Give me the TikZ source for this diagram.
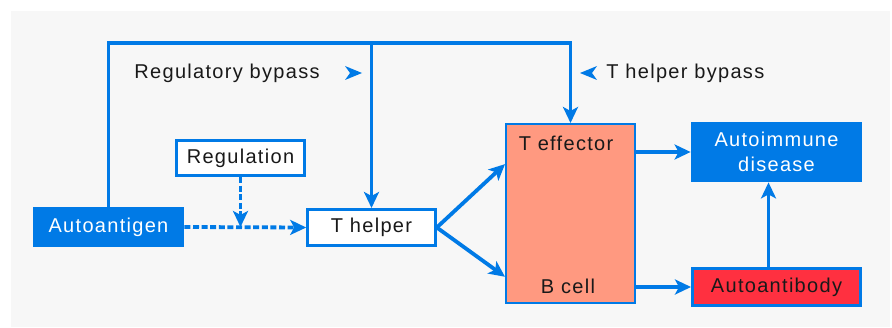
\documentclass[tikz,border=0pt]{standalone}
\usepackage{fontspec}
\setmainfont{Liberation Sans}[LetterSpace=6.5]
\usepackage{tikz}
\usetikzlibrary{positioning, arrows.meta}
\definecolor{cellblue}{RGB}{0,122,230}
\definecolor{effsalmon}{RGB}{255,153,128}
\definecolor{abred}{RGB}{255,48,64}
\definecolor{panelgrey}{RGB}{247,247,247}
\tikzset{
  x=0.5pt, y=0.5pt,
  txt/.style={font=\fontsize{10}{12.5}\selectfont, text=black!90},
  lbl/.style={txt, inner sep=0},
  box/.style={txt, draw=cellblue, line width=1.3pt, fill=white, inner sep=0},
  bluebox/.style={txt, fill=cellblue, text=white, inner sep=0, align=center},
  flow/.style={draw=cellblue, line width=1.9pt, -{Stealth[length=8pt, width=7.5pt, inset=2pt]}},
  dashflow/.style={flow, dash pattern=on 3pt off 1.3pt},
  bypasstip/.pic={\fill[cellblue] (0,0) -- (-17,7) -- (-12,0) -- (-17,-7) -- cycle;}
}

\begin{document}
\begin{tikzpicture}
\useasboundingbox (0,0) rectangle (892,327);
\fill[panelgrey] (11,0) rectangle (890,316);

% cells
\node[bluebox, minimum width=75.5pt, minimum height=20pt] (aag) at (108.5,100) {Autoantigen};
\node[box, minimum width=64pt, minimum height=17.7pt] (reg) at (240.5,169) {Regulation};
\node[box, minimum width=64pt, minimum height=18.2pt] (thelper) at (371.5,99.5) {T helper};
\node[box, fill=effsalmon, line width=1pt, minimum width=64.5pt, minimum height=89.5pt] (effbox) at (570.5,113.5) {};
\node[lbl] (teff) at (566,184) {T effector};
\node[lbl] (bcell) at (568,41) {B cell};
\node[bluebox, minimum width=85.5pt, minimum height=30pt] (autoimm) at (776.5,175) {Autoimmune\\disease};
\node[box, fill=abred, minimum width=84.2pt, minimum height=18.7pt] (autoab) at (776.5,40) {Autoantibody};

% bypass routes over the top
\coordinate (bypass) at (108,284);
\draw[flow] (aag.north) |- (effbox.north |- bypass) -- (effbox.north);
\draw[flow] (thelper.north |- bypass) -- (thelper.north);
\coordinate (rbtip) at (362,254);
\pic at (rbtip) {bypasstip};
\node[lbl, left=21pt of rbtip] (rblabel) {Regulatory bypass};
\coordinate (thtip) at (580,254);
\pic[rotate=180] at (thtip) {bypasstip};
\node[lbl, right=13pt of thtip] (thlabel) {T helper bypass};

% regulated activation
\draw[dashflow] (aag.east) -- (thelper.west);
\draw[dashflow] (reg.south) -- (reg.south |- aag.east);

% effector arms
\draw[flow] (thelper.east) -- (effbox.143.5);
\draw[flow] (thelper.east) -- (effbox.224.5);
\draw[flow] (effbox.east |- autoimm) -- (autoimm.west);
\draw[flow] (effbox.east |- autoab) -- (autoab.west);
\draw[flow] ([xshift=-4pt]autoab.north) -- ([xshift=-4pt]autoimm.south);
\end{tikzpicture}
\end{document}
